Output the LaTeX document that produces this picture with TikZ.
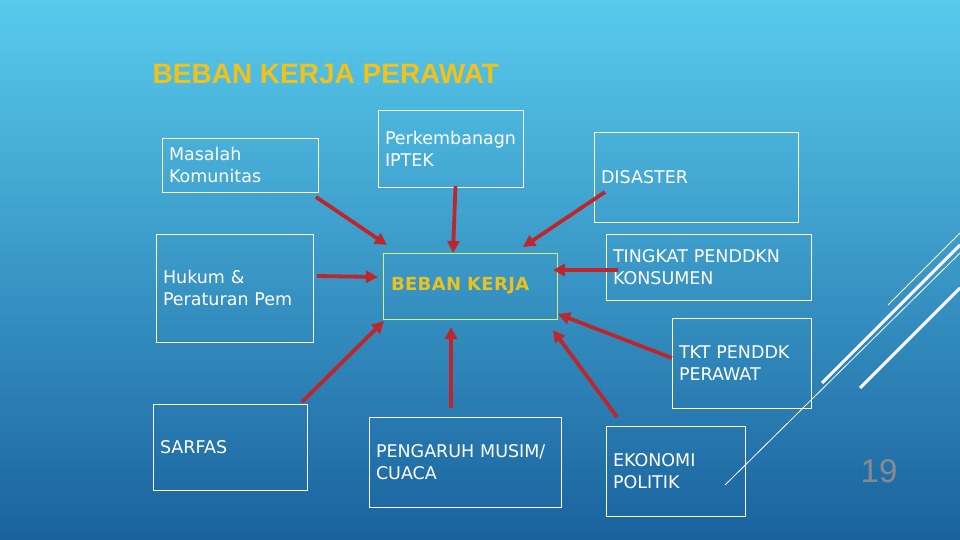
\documentclass[tikz,border=0pt]{standalone}
\usepackage{fontspec}
\usepackage{tikz}
\usetikzlibrary{
  calc,
  positioning,
  arrows.meta
}
\newfontfamily\boxfont{DejaVu Sans}
\newfontfamily\keyfont[LetterSpace=2]{DejaVu Sans}
\newfontfamily\headfont{Liberation Sans}
\definecolor{bgtop}{RGB}{88,203,237}
\definecolor{bgmid}{RGB}{56,152,202}
\definecolor{bgbot}{RGB}{26,98,158}
\definecolor{arrowred}{RGB}{190,38,46}
\definecolor{headgold}{RGB}{243,193,24}
\definecolor{keygold}{RGB}{232,194,32}
\definecolor{keyline}{RGB}{212,240,120}
\definecolor{pagegray}{RGB}{138,138,138}

\begin{document}
\begin{tikzpicture}[x=1pt,y=-1pt,
  box/.style={draw=white,line width=0.8pt,text=white,align=left,anchor=north west,
    inner xsep=7pt,inner ysep=0pt,outer sep=0pt,
    font=\boxfont\fontsize{17.5}{22}\selectfont},
  pull/.style={-{Triangle[length=12pt,width=12pt]},line width=3.8pt,arrowred},
  deco/.style={white,line cap=butt}]
  \useasboundingbox (0,0) rectangle (960,540);
  \shade[top color=bgtop,middle color=bgmid,bottom color=bgbot] (0,0) rectangle (960,540);

  \draw[deco,line width=0.8pt] (888,305) -- (960,233);
  \draw[deco,line width=3pt] (822,383) -- (960,245);
  \draw[deco,line width=0.8pt] (725,485) -- (960,253);
  \draw[deco,line width=3pt] (860,388) -- (960,288);

  \node[anchor=base west,inner sep=0pt,text=headgold,
    font=\headfont\bfseries\fontsize{28}{32}\selectfont] at (152.5, 84) (Title) {BEBAN KERJA PERAWAT};

  \node[box,text width=142pt,minimum height=54pt] at (162, 138) (Masalah) {Masalah\\Komunitas};
  \node[box,text width=131pt,minimum height=77pt] at (378, 110) (IPTEK) {Perkembanagn\\IPTEK};
  \node[box,text width=143pt,minimum height=108pt] at (156, 234) (Hukum) {Hukum \&\\Peraturan Pem};
  \node[box,text width=190pt,minimum height=90pt] at (594, 132) (Disaster) {DISASTER};
  \node[box,text width=191pt,minimum height=66pt] at (606, 234) (Tingkat) {TINGKAT PENDDKN\\KONSUMEN};
  \node[box,text width=125pt,minimum height=90pt] at (672, 318) (TKT) {TKT PENDDK\\PERAWAT};
  \node[box,text width=140pt,minimum height=86pt] at (153, 404) (Sarfas) {SARFAS};
  \node[box,text width=178pt,minimum height=90pt] at (369, 417) (Musim) {PENGARUH MUSIM/\\CUACA};
  \node[box,text width=125pt,minimum height=90pt] at (606, 426) (Ekonomi) {EKONOMI\\POLITIK};

  \node[box,draw=keyline,text=keygold,inner xsep=8pt,text width=158pt,minimum height=66pt,
    font=\keyfont\bfseries\fontsize{18}{22}\selectfont] at (383, 253) (Beban) {BEBAN KERJA};

  \node[anchor=base west,inner sep=0pt,text=pagegray,
    font=\headfont\fontsize{33}{36}\selectfont] at (860.5, 482) (Page) {19};

  \draw[pull] ($(Masalah.south east)+(-2,5)$) -- ($(Beban.north west)+(4,-8)$);
  \draw[pull] ($(IPTEK.south)+(5,-1)$) -- ($(Beban.north west)+(70,0)$);
  \draw[pull] ($(Disaster.west)+(11,15)$) -- ($(Beban.north east)+(-34,-6)$);
  \draw[pull] ($(Hukum.east)+(4,-12)$) -- ($(Beban.west)+(-5,-9)$);
  \draw[pull] ($(Tingkat.west)+(12,3)$) -- ($(Beban.east)+(-4,-16)$);
  \draw[pull] ($(TKT.west)+(0,-5)$) -- ($(Beban.south east)+(1,-5)$);
  \draw[pull] ($(Sarfas.north east)+(-5,-2)$) -- ($(Beban.south west)+(1,2)$);
  \draw[pull] ($(Musim.north)+(-14,-9)$) -- ($(Beban.south)+(-19,8)$);
  \draw[pull] ($(Ekonomi.north west)+(11,-9)$) -- ($(Beban.south east)+(-4,11)$);
\end{tikzpicture}
\end{document}
